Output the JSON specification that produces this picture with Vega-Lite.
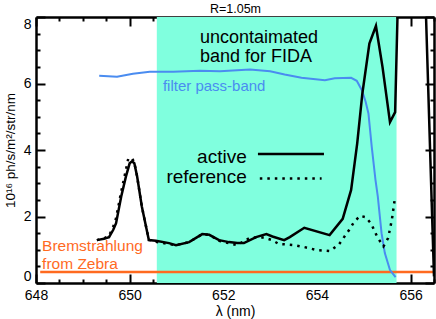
{
  "$schema": "https://vega.github.io/schema/vega-lite/v6.json",
  "width": 398,
  "height": 266,
  "autosize": {"type": "none"},
  "padding": {"left": 36, "top": 17, "right": 2, "bottom": 36},
  "background": "white",
  "config": {"view": {"stroke": null}, "font": "Liberation Sans"},
  "datasets": {
    "band": [{"a": 650.58, "b": 655.7}],
    "brems": [{"l": 648.09, "v": 0.33}, {"l": 656.5, "v": 0.33}],
    "filter": [
      {"l": 649.35, "v": 6.23}, {"l": 649.73, "v": 6.2}, {"l": 650.07, "v": 6.29}, {"l": 650.43, "v": 6.35},
      {"l": 650.93, "v": 6.35}, {"l": 651.5, "v": 6.38}, {"l": 651.93, "v": 6.37}, {"l": 652.57, "v": 6.42},
      {"l": 653.0, "v": 6.37}, {"l": 653.31, "v": 6.27}, {"l": 653.67, "v": 6.17}, {"l": 654.17, "v": 6.1},
      {"l": 654.38, "v": 6.16}, {"l": 654.73, "v": 6.17}, {"l": 654.85, "v": 6.08}, {"l": 654.96, "v": 5.8},
      {"l": 655.04, "v": 5.45}, {"l": 655.1, "v": 5.1}, {"l": 655.17, "v": 4.1}, {"l": 655.25, "v": 3.1},
      {"l": 655.3, "v": 2.6}, {"l": 655.38, "v": 1.5}, {"l": 655.45, "v": 0.9}, {"l": 655.56, "v": 0.39},
      {"l": 655.68, "v": 0.18}
    ],
    "reference": [
      {"l": 649.3, "v": 1.29}, {"l": 649.45, "v": 1.34}, {"l": 649.56, "v": 1.42}, {"l": 649.65, "v": 1.7},
      {"l": 649.71, "v": 1.95}, {"l": 649.82, "v": 2.75}, {"l": 649.92, "v": 3.4}, {"l": 649.97, "v": 3.74},
      {"l": 650.05, "v": 3.76}, {"l": 650.1, "v": 3.62}, {"l": 650.16, "v": 3.2}, {"l": 650.26, "v": 2.3},
      {"l": 650.41, "v": 1.3}, {"l": 650.56, "v": 1.24}, {"l": 650.84, "v": 1.17}, {"l": 650.99, "v": 1.14},
      {"l": 651.27, "v": 1.23}, {"l": 651.55, "v": 1.47}, {"l": 651.7, "v": 1.45}, {"l": 651.91, "v": 1.27},
      {"l": 652.12, "v": 1.2}, {"l": 652.29, "v": 1.14}, {"l": 652.57, "v": 1.36}, {"l": 652.8, "v": 1.38},
      {"l": 652.91, "v": 1.35}, {"l": 653.04, "v": 1.29}, {"l": 653.19, "v": 1.17}, {"l": 653.34, "v": 1.16},
      {"l": 653.51, "v": 1.14}, {"l": 653.73, "v": 1.08}, {"l": 654.0, "v": 0.99}, {"l": 654.28, "v": 0.96},
      {"l": 654.47, "v": 1.16}, {"l": 654.69, "v": 1.6}, {"l": 654.79, "v": 1.83}, {"l": 654.92, "v": 2.02},
      {"l": 655.04, "v": 1.98}, {"l": 655.16, "v": 1.78}, {"l": 655.29, "v": 1.38}, {"l": 655.42, "v": 1.1},
      {"l": 655.52, "v": 1.35}, {"l": 655.6, "v": 1.9}, {"l": 655.67, "v": 2.6}
    ],
    "active": [
      {"seg": 1, "l": 649.3, "v": 1.29}, {"seg": 1, "l": 649.45, "v": 1.33}, {"seg": 1, "l": 649.56, "v": 1.38}, {"seg": 1, "l": 649.65, "v": 1.6},
      {"seg": 1, "l": 649.71, "v": 1.8}, {"seg": 1, "l": 649.82, "v": 2.6}, {"seg": 1, "l": 649.92, "v": 3.2}, {"seg": 1, "l": 650.0, "v": 3.6},
      {"seg": 1, "l": 650.05, "v": 3.66}, {"seg": 1, "l": 650.1, "v": 3.6}, {"seg": 1, "l": 650.16, "v": 3.2}, {"seg": 1, "l": 650.26, "v": 2.3},
      {"seg": 1, "l": 650.41, "v": 1.29}, {"seg": 1, "l": 650.56, "v": 1.27}, {"seg": 1, "l": 650.84, "v": 1.2}, {"seg": 1, "l": 650.99, "v": 1.14},
      {"seg": 1, "l": 651.27, "v": 1.23}, {"seg": 1, "l": 651.55, "v": 1.47}, {"seg": 1, "l": 651.7, "v": 1.45}, {"seg": 1, "l": 651.91, "v": 1.29},
      {"seg": 1, "l": 652.12, "v": 1.23}, {"seg": 1, "l": 652.3, "v": 1.2}, {"seg": 1, "l": 652.44, "v": 1.2}, {"seg": 1, "l": 652.7, "v": 1.38},
      {"seg": 1, "l": 652.92, "v": 1.47}, {"seg": 1, "l": 653.05, "v": 1.4}, {"seg": 1, "l": 653.3, "v": 1.29}, {"seg": 1, "l": 653.42, "v": 1.38},
      {"seg": 1, "l": 653.73, "v": 1.66}, {"seg": 1, "l": 654.27, "v": 1.44}, {"seg": 1, "l": 654.55, "v": 1.93}, {"seg": 1, "l": 654.73, "v": 2.8},
      {"seg": 1, "l": 654.86, "v": 4.2}, {"seg": 1, "l": 654.97, "v": 5.7}, {"seg": 1, "l": 655.12, "v": 7.2}, {"seg": 1, "l": 655.26, "v": 7.73},
      {"seg": 1, "l": 655.4, "v": 6.5}, {"seg": 1, "l": 655.56, "v": 4.84}, {"seg": 1, "l": 655.67, "v": 5.14}, {"seg": 1, "l": 655.72, "v": 8.0},
      {"seg": 2, "l": 656.33, "v": 8.0}, {"seg": 2, "l": 656.46, "v": 2.0}, {"seg": 2, "l": 656.5, "v": 0.2}
    ],
    "legendActive": [{"l": 652.74, "v": 3.88}, {"l": 654.15, "v": 3.88}],
    "legendRef": [{"l": 652.78, "v": 3.14}, {"l": 654.1, "v": 3.14}],
    "bandText": [{"l": 651.5, "v": 7.23, "t": "uncontaimated"}, {"l": 651.5, "v": 6.66, "t": "band for FIDA"}],
    "filterText": [{"l": 650.71, "v": 5.78, "t": "filter pass-band"}],
    "legendText": [{"l": 652.5, "v": 3.61, "t": "active"}, {"l": 652.5, "v": 3.0, "t": "reference"}],
    "bremsText": [{"l": 648.13, "v": 0.97, "t": "Bremstrahlung"}, {"l": 648.13, "v": 0.42, "t": "from Zebra"}]
  },
  "layer": [
    {
      "data": {"name": "band"},
      "mark": {"type": "rect", "color": "#80FFDE", "opacity": 1},
      "encoding": {
        "x": {"field": "a", "type": "quantitative", "scale": {"domain": [648, 656.5], "nice": false, "zero": false}, "axis": null},
        "x2": {"field": "b"}
      }
    },
    {
      "data": {"name": "brems"},
      "mark": {"type": "line", "color": "#FF6A1F", "strokeWidth": 2.5, "clip": true},
      "encoding": {
        "x": {"field": "l", "type": "quantitative", "scale": {"domain": [648, 656.5], "nice": false, "zero": false},
          "axis": {"orient": "bottom", "values": [648, 648.5, 649, 649.5, 650, 650.5, 651, 651.5, 652, 652.5, 653, 653.5, 654, 654.5, 655, 655.5, 656, 656.5],
            "labelExpr": "datum.value % 2 === 0 ? '' + datum.value : ''", "ticks": true, "tickSize": 0, "tickWidth": 2, "tickColor": "black",
            "domainColor": "black", "domainWidth": 2.5, "labelFontSize": 14, "labelColor": "black", "labelFont": "Liberation Sans", "labelPadding": 5,
            "labelFlush": false, "labelOverlap": false, "grid": false, "title": "λ (nm)", "titleFontSize": 14, "titleFontWeight": "normal",
            "titleColor": "black", "titleFont": "Liberation Sans", "titlePadding": 2,
            "encoding": {"ticks": {"y2": {"value": {"expr": "datum.value % 2 === 0 ? -9 : -4"}}}}}},
        "y": {"field": "v", "type": "quantitative", "scale": {"domain": [0, 8], "nice": false, "zero": false},
          "axis": {"orient": "left", "values": [0, 0.5, 1, 1.5, 2, 2.5, 3, 3.5, 4, 4.5, 5, 5.5, 6, 6.5, 7, 7.5, 8],
            "labelExpr": "datum.value % 2 === 0 ? '' + datum.value : ''", "ticks": true, "tickSize": 0, "tickWidth": 2, "tickColor": "black",
            "domainColor": "black", "domainWidth": 2.5, "labelFontSize": 14, "labelColor": "black", "labelFont": "Liberation Sans", "labelPadding": 5,
            "labelFlush": true, "labelOverlap": false, "grid": false, "title": "10¹⁶ ph/s/m²/str/nm", "titleFontSize": 13.5, "titleFontWeight": "normal",
            "titleColor": "black", "titleFont": "Liberation Sans", "titlePadding": 6,
            "encoding": {"ticks": {"x2": {"value": {"expr": "datum.value % 2 === 0 ? 9 : 4"}}}}}}
      }
    },
    {
      "data": {"name": "filter"},
      "mark": {"type": "line", "color": "#4A8CF0", "strokeWidth": 2, "clip": true},
      "encoding": {
        "x": {"field": "l", "type": "quantitative", "scale": {"domain": [648, 656.5], "nice": false, "zero": false},
          "axis": {"orient": "top", "values": [648, 648.5, 649, 649.5, 650, 650.5, 651, 651.5, 652, 652.5, 653, 653.5, 654, 654.5, 655, 655.5, 656, 656.5],
            "labels": false, "ticks": true, "tickSize": 0, "tickWidth": 2, "tickColor": "black", "domainColor": "black", "domainWidth": 2.5,
            "grid": false, "title": "R=1.05m", "titleFontSize": 12.5, "titleFontWeight": "normal", "titleColor": "black", "titleFont": "Liberation Sans",
            "titleBaseline": "alphabetic", "titlePadding": 4,
            "encoding": {"ticks": {"y2": {"value": {"expr": "datum.value % 2 === 0 ? 9 : 4"}}}}}},
        "y": {"field": "v", "type": "quantitative", "scale": {"domain": [0, 8], "nice": false, "zero": false},
          "axis": {"orient": "right", "values": [0, 0.5, 1, 1.5, 2, 2.5, 3, 3.5, 4, 4.5, 5, 5.5, 6, 6.5, 7, 7.5, 8],
            "labels": false, "ticks": true, "tickSize": 0, "tickWidth": 2, "tickColor": "black", "domainColor": "black", "domainWidth": 2.5,
            "grid": false, "title": null,
            "encoding": {"ticks": {"x2": {"value": {"expr": "datum.value % 2 === 0 ? -9 : -4"}}}}}}
      }
    },
    {
      "data": {"name": "reference"},
      "mark": {"type": "line", "color": "black", "strokeWidth": 2.5, "strokeDash": [2.5, 5], "clip": true},
      "encoding": {
        "x": {"field": "l", "type": "quantitative", "axis": null},
        "y": {"field": "v", "type": "quantitative", "axis": null}
      }
    },
    {
      "data": {"name": "active"},
      "mark": {"type": "line", "color": "black", "strokeWidth": 2.5, "clip": true},
      "encoding": {
        "x": {"field": "l", "type": "quantitative", "axis": null},
        "y": {"field": "v", "type": "quantitative", "axis": null},
        "detail": {"field": "seg", "type": "nominal"}
      }
    },
    {
      "data": {"name": "legendActive"},
      "mark": {"type": "line", "color": "black", "strokeWidth": 2.5},
      "encoding": {
        "x": {"field": "l", "type": "quantitative", "axis": null},
        "y": {"field": "v", "type": "quantitative", "axis": null}
      }
    },
    {
      "data": {"name": "legendRef"},
      "mark": {"type": "line", "color": "black", "strokeWidth": 2.5, "strokeDash": [2.5, 5]},
      "encoding": {
        "x": {"field": "l", "type": "quantitative", "axis": null},
        "y": {"field": "v", "type": "quantitative", "axis": null}
      }
    },
    {
      "data": {"name": "bandText"},
      "mark": {"type": "text", "align": "left", "baseline": "alphabetic", "fontSize": 18, "color": "black", "font": "Liberation Sans"},
      "encoding": {
        "x": {"field": "l", "type": "quantitative", "axis": null},
        "y": {"field": "v", "type": "quantitative", "axis": null},
        "text": {"field": "t"}
      }
    },
    {
      "data": {"name": "filterText"},
      "mark": {"type": "text", "align": "left", "baseline": "alphabetic", "fontSize": 15, "color": "#4A8CF0", "font": "Liberation Sans"},
      "encoding": {
        "x": {"field": "l", "type": "quantitative", "axis": null},
        "y": {"field": "v", "type": "quantitative", "axis": null},
        "text": {"field": "t"}
      }
    },
    {
      "data": {"name": "legendText"},
      "mark": {"type": "text", "align": "right", "baseline": "alphabetic", "fontSize": 19, "color": "black", "font": "Liberation Sans"},
      "encoding": {
        "x": {"field": "l", "type": "quantitative", "axis": null},
        "y": {"field": "v", "type": "quantitative", "axis": null},
        "text": {"field": "t"}
      }
    },
    {
      "data": {"name": "bremsText"},
      "mark": {"type": "text", "align": "left", "baseline": "alphabetic", "fontSize": 15.5, "color": "#FF6A1F", "font": "Liberation Sans"},
      "encoding": {
        "x": {"field": "l", "type": "quantitative", "axis": null},
        "y": {"field": "v", "type": "quantitative", "axis": null},
        "text": {"field": "t"}
      }
    }
  ],
  "resolve": {"axis": {"x": "independent", "y": "independent"}}
}
